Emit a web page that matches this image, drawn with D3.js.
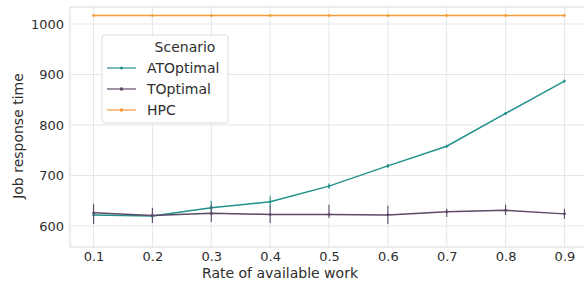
<!DOCTYPE html>
<html>
<head>
<meta charset="utf-8">
<script src="https://cdn.jsdelivr.net/npm/d3@7"></script>
<style>
  body { margin: 0; background: #fff; }
  text { font-family: "DejaVu Sans", sans-serif; fill: #2e2e2e; }
</style>
</head>
<body>
<div id="chart"></div>
<script>
'use strict';

// Data
const rates = [0.1, 0.2, 0.3, 0.4, 0.5, 0.6, 0.7, 0.8, 0.9];
const scenarios = ["ATOptimal", "TOptimal", "HPC"];
const atOptimal = [622, 620, 636, 648, 679, 719, 758, 823, 887];
const atLow = [608, 612, 622, 638, 674, 715, 755, 820, 884];
const atHigh = [636, 628, 650, 659, 684, 723, 761, 826, 890];
const tOptimal = [626, 621, 625, 623, 623, 622, 628, 631, 624];
const tLow = [604, 606, 608, 606, 616, 604, 618, 622, 614];
const tHigh = [644, 636, 642, 640, 642, 640, 634, 642, 634];
const hpc = [1017, 1017, 1017, 1017, 1017, 1017, 1017, 1017, 1017];
const yTicks = [600, 700, 800, 900, 1000];

const colors = { ATOptimal: "#22918c", TOptimal: "#5e4a66", HPC: "#f59a36" };

const series = [
    { name: "ATOptimal", values: atOptimal, low: atLow, high: atHigh, marker: "circle" },
    { name: "TOptimal", values: tOptimal, low: tLow, high: tHigh, marker: "square" },
    { name: "HPC", values: hpc, low: null, high: null, marker: "square" }
];

const W = 584, H = 285;
const plot = { left: 70, right: 588, top: 7, bottom: 247 };

const svg = d3.select("#chart").append("svg")
    .attr("width", W)
    .attr("height", H);

const x = d3.scaleLinear().domain([0.06, 0.94]).range([plot.left, plot.right]);
const y = d3.scaleLinear().domain([558.4, 1033.7]).range([plot.bottom, plot.top]);

// grid
svg.append("g")
    .selectAll("line.vg")
    .data(rates)
    .enter().append("line")
    .attr("x1", d => x(d)).attr("x2", d => x(d))
    .attr("y1", plot.top).attr("y2", plot.bottom)
    .attr("stroke", "#e6e6e6").attr("stroke-width", 1);

svg.append("g")
    .selectAll("line.hg")
    .data(yTicks)
    .enter().append("line")
    .attr("x1", plot.left).attr("x2", plot.right)
    .attr("y1", d => y(d)).attr("y2", d => y(d))
    .attr("stroke", "#e6e6e6").attr("stroke-width", 1);

// frame
svg.append("rect")
    .attr("x", plot.left).attr("y", plot.top)
    .attr("width", plot.right - plot.left).attr("height", plot.bottom - plot.top)
    .attr("fill", "none").attr("stroke", "#d9d9d9").attr("stroke-width", 1);

// axes (no tick marks, seaborn whitegrid look)
const xAxis = svg.append("g")
    .attr("transform", `translate(0,${plot.bottom})`)
    .call(d3.axisBottom(x).tickValues(rates).tickSize(0).tickPadding(5).tickFormat(d3.format(".1f")));
xAxis.select(".domain").remove();
xAxis.selectAll("text").attr("font-size", 13).attr("fill", "#2e2e2e");

const yAxis = svg.append("g")
    .attr("transform", `translate(${plot.left},0)`)
    .call(d3.axisLeft(y).tickValues(yTicks).tickSize(0).tickPadding(6).tickFormat(d3.format("d")));
yAxis.select(".domain").remove();
yAxis.selectAll("text").attr("font-size", 13).attr("fill", "#2e2e2e");

// axis labels
svg.append("text")
    .attr("x", 280).attr("y", 278)
    .attr("text-anchor", "middle")
    .attr("font-size", 14)
    .text("Rate of available work");

svg.append("text")
    .attr("transform", "rotate(-90)")
    .attr("x", -136).attr("y", 23)
    .attr("text-anchor", "middle")
    .attr("font-size", 14)
    .text("Job response time");

// lines, error bars and markers
const line = d3.line()
    .x((d, i) => x(rates[i]))
    .y(d => y(d));

series.forEach(s => {
    const g = svg.append("g");
    const c = colors[s.name];

    g.append("path")
        .datum(s.values)
        .attr("d", line)
        .attr("fill", "none")
        .attr("stroke", c)
        .attr("stroke-width", 1.5);

    if (s.low) {
        g.selectAll("line.err")
            .data(rates)
            .enter().append("line")
            .attr("x1", d => x(d)).attr("x2", d => x(d))
            .attr("y1", (d, i) => y(s.low[i]))
            .attr("y2", (d, i) => y(s.high[i]))
            .attr("stroke", c)
            .attr("stroke-width", 1.1);
    }

    if (s.marker === "circle") {
        g.selectAll("circle")
            .data(s.values)
            .enter().append("circle")
            .attr("cx", (d, i) => x(rates[i]))
            .attr("cy", d => y(d))
            .attr("r", 1.3)
            .attr("fill", c);
    } else {
        g.selectAll("rect")
            .data(s.values)
            .enter().append("rect")
            .attr("x", (d, i) => x(rates[i]) - 1.2)
            .attr("y", d => y(d) - 1.2)
            .attr("width", 2.4).attr("height", 2.4)
            .attr("fill", c);
    }
});

// legend
const legend = svg.append("g").attr("transform", "translate(102,35)");
legend.append("rect")
    .attr("width", 126).attr("height", 88)
    .attr("rx", 3)
    .attr("fill", "#fff").attr("fill-opacity", 0.85)
    .attr("stroke", "#dcdcdc");

legend.append("text")
    .attr("x", 83).attr("y", 17)
    .attr("text-anchor", "middle")
    .attr("font-size", 14)
    .text("Scenario");

const item = legend.selectAll("g.item")
    .data(series)
    .enter().append("g")
    .attr("transform", (d, i) => `translate(0,${33 + i * 21})`);

item.append("line")
    .attr("x1", 5).attr("x2", 34)
    .attr("stroke", d => colors[d.name])
    .attr("stroke-width", 1.2);

item.each(function (d) {
    const gi = d3.select(this);
    if (d.marker === "circle") {
        gi.append("circle").attr("cx", 19.5).attr("r", 1.5).attr("fill", colors[d.name]);
    } else {
        gi.append("rect").attr("x", 18).attr("y", -1.5).attr("width", 3).attr("height", 3).attr("fill", colors[d.name]);
    }
});

item.append("text")
    .attr("x", 45).attr("y", 5)
    .attr("font-size", 14)
    .text(d => d.name);
</script>
</body>
</html>
